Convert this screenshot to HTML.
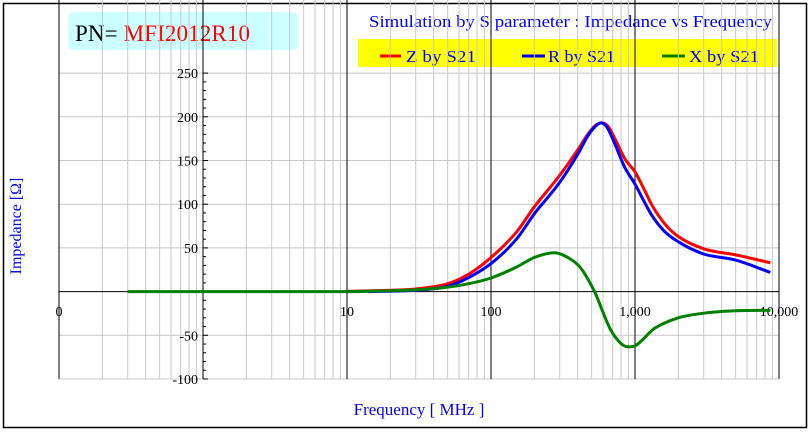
<!DOCTYPE html>
<html><head><meta charset="utf-8"><style>html,body{margin:0;padding:0;background:#fff}svg{display:block}</style></head>
<body>
<svg id="s" width="811" height="432" xmlns="http://www.w3.org/2000/svg" font-family="Liberation Serif, serif">
<rect x="3.5" y="3.5" width="803" height="424" fill="#fff" stroke="#000" stroke-width="1.5"/>
<rect x="68" y="12" width="230" height="38" rx="6" fill="#ccffff"/>
<text x="75" y="41" font-size="23" textLength="175"><tspan fill="#000">PN= </tspan><tspan fill="#ff0000">MFI2012R10</tspan></text>
<text x="369" y="27" font-size="17" fill="#0000ff" textLength="403" lengthAdjust="spacingAndGlyphs">Simulation by S parameter : Impedance vs Frequency</text>
<rect x="358" y="39" width="419" height="28" fill="#ffff00"/>
<line x1="380" y1="56" x2="401" y2="56" stroke="#ff0000" stroke-width="3"/>
<text x="406" y="62" font-size="17" fill="#0000ff" textLength="70" lengthAdjust="spacingAndGlyphs">Z by S21</text>
<line x1="522" y1="56" x2="545" y2="56" stroke="#0000ff" stroke-width="3"/>
<text x="548" y="62" font-size="17" fill="#0000ff" textLength="67" lengthAdjust="spacingAndGlyphs">R by S21</text>
<line x1="662" y1="56" x2="685" y2="56" stroke="#008000" stroke-width="3"/>
<text x="689" y="62" font-size="17" fill="#0000ff" textLength="70" lengthAdjust="spacingAndGlyphs">X by S21</text>
<g id="grid"></g>
<g id="curves" fill="none" stroke-width="3" stroke-linejoin="round"></g>
<text transform="translate(21,226) rotate(-90)" font-size="16" fill="#0000ff" text-anchor="middle">Impedance [Ω]</text>
<text x="419" y="415" font-size="17" fill="#0000ff" text-anchor="middle">Frequency [ MHz ]</text>
</svg>
<script>
var NS="http://www.w3.org/2000/svg";
function el(p,t,a,txt){var e=document.createElementNS(NS,t);for(var k in a)e.setAttribute(k,a[k]);if(txt!=null)e.textContent=txt;p.appendChild(e);return e;}
var g=document.getElementById('grid'),c=document.getElementById('curves');
function X(f){return 203+144*Math.log10(f);}
function Y(v){return 291.6-v*0.874;}
var top=73,bot=379,L=59,R=779;
for(var d=-1;d<4;d++)for(var m=2;m<10;m++){var x=X(m*Math.pow(10,d));el(g,'line',{x1:x,y1:top,x2:x,y2:bot,stroke:'#c8c8c8'});}
for(var v=-100;v<=250;v+=50){if(v==0)continue;el(g,'line',{x1:L,y1:Y(v),x2:R,y2:Y(v),stroke:'#c8c8c8'});}
[59,347,491,635,779].forEach(function(x){el(g,'line',{x1:x,y1:top,x2:x,y2:bot,stroke:'#000'});});
el(g,'line',{x1:L,y1:Y(0),x2:R,y2:Y(0),stroke:'#000'});
el(g,'line',{x1:203,y1:top,x2:203,y2:bot,stroke:'#000'});
for(var v=-100;v<=250;v+=10){el(g,'line',{x1:203,y1:Y(v),x2:(v%50==0?208:206),y2:Y(v),stroke:'#000'});}
for(var v=-100;v<=250;v+=50){if(v==0)continue;el(g,'text',{x:198,y:Y(v)+5,'font-size':14,'text-anchor':'end',fill:'#000'},String(v));}
[[59,'0'],[347,'10'],[491,'100'],[635,'1,000'],[779,'10,000']].forEach(function(a){el(g,'text',{x:a[0],y:316,'font-size':14,'text-anchor':'middle',fill:'#000'},a[1]);});
var Z=[[10,0.5],[20,1.5],[30,3],[50,9],[70,20],[100,39],[150,68],[200,97],[300,133],[400,162],[470,180],[530,190],[590,193],[650,189],[720,176],[850,152],[1000,137],[1150,118],[1300,100],[1600,78],[2000,63],[3000,49],[5000,42],[8700,33]];
var Rr=[[14,0],[20,0.5],[30,1.5],[50,6],[70,16],[100,32],[150,60],[200,89],[300,125],[400,157],[470,178],[530,189],[580,193],[640,188],[720,170],[850,142],[1000,123],[1150,104],[1300,88],[1600,69],[2000,57],[3000,43],[5000,36],[8700,22]];
var Xx=[[0.3,0],[10,0],[20,1],[30,2],[50,5],[70,9],[100,15.6],[150,28],[200,39],[275,44.5],[350,38],[420,27],[523,0],[690,-46],[890,-63],[1000,-62],[1370,-42],[2000,-30],[3000,-24.7],[5000,-22],[8700,-21.5]];
function path(pts,col){
  var xs=pts.map(function(p){return X(p[0]);}),ys=pts.map(function(p){return Y(p[1]);}),n=xs.length;
  var dl=[],m=[];
  for(var i=0;i<n-1;i++)dl.push((ys[i+1]-ys[i])/(xs[i+1]-xs[i]));
  m[0]=dl[0];m[n-1]=dl[n-2];
  for(var i=1;i<n-1;i++){m[i]=(dl[i-1]*dl[i]<=0)?0:(dl[i-1]+dl[i])/2;}
  var d='M'+xs[0].toFixed(1)+','+ys[0].toFixed(1);
  for(var i=0;i<n-1;i++){var h=xs[i+1]-xs[i];
    d+='C'+(xs[i]+h/3).toFixed(1)+','+(ys[i]+m[i]*h/3).toFixed(1)+' '+(xs[i+1]-h/3).toFixed(1)+','+(ys[i+1]-m[i+1]*h/3).toFixed(1)+' '+xs[i+1].toFixed(1)+','+ys[i+1].toFixed(1);}
  el(c,'path',{d:d,stroke:col});}
path(Z,'#ff0000');path(Rr,'#0000ff');path(Xx,'#008000');
</script>
</body></html>
